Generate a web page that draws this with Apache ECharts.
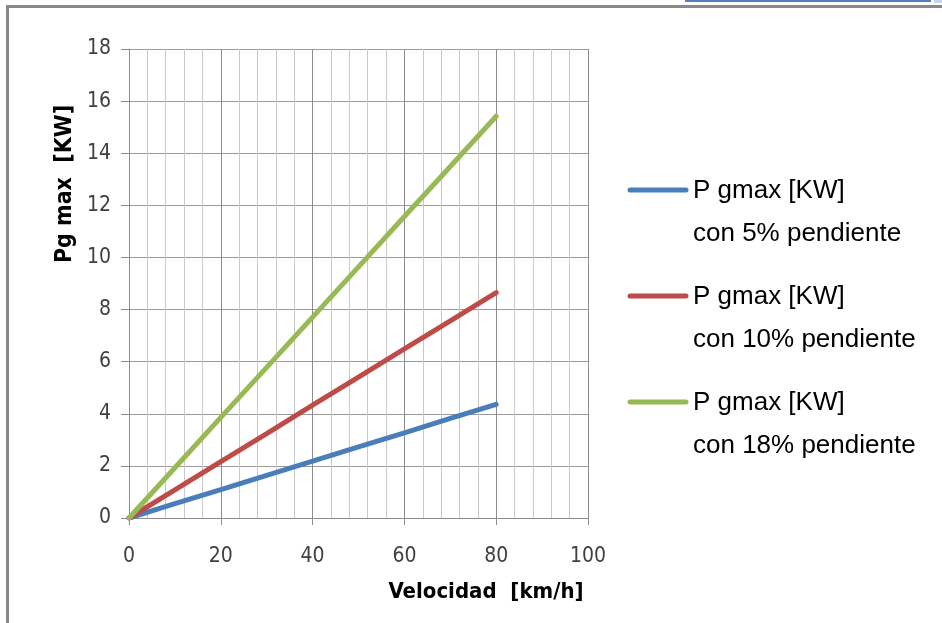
<!DOCTYPE html>
<html>
<head>
<meta charset="utf-8">
<script src="https://cdn.jsdelivr.net/npm/echarts@6/dist/echarts.min.js"></script>
<style>
html,body{margin:0;padding:0;background:#fff;}
#chart{width:942px;height:623px;}
</style>
</head>
<body>
<div id="chart"></div>
<script>
// Data
var velocidad = [0, 10, 20, 30, 40, 50, 60, 70, 80];
var p5  = [0, 0.55, 1.09, 1.64, 2.18, 2.73, 3.27, 3.82, 4.36];
var p10 = [0, 1.08, 2.16, 3.24, 4.33, 5.41, 6.49, 7.57, 8.65];
var p18 = [0, 1.93, 3.86, 5.78, 7.71, 9.64, 11.57, 13.49, 15.42];
var seriesNames = ['P gmax [KW]\ncon 5% pendiente', 'P gmax [KW]\ncon 10% pendiente', 'P gmax [KW]\ncon 18% pendiente'];
var xAxisTitle = 'Velocidad  [km/h]';
var yAxisTitle = 'Pg max  [KW]';

var colors = ['#4A7EBB', '#BE4B48', '#98B954'];
var narrow = '"Liberation Sans Narrow", "DejaVu Sans Condensed", "Liberation Sans", sans-serif';

function pairs(ys) { return velocidad.map(function (x, i) { return [x, ys[i]]; }); }

var chart = echarts.init(document.getElementById('chart'));
var legendTops = [190, 296, 402];
var graphic = [
  { type: 'rect', shape: { x: 6, y: 5, width: 936, height: 3 }, style: { fill: '#888888' } },
  { type: 'rect', shape: { x: 6, y: 5, width: 3, height: 618 }, style: { fill: '#888888' } },
  { type: 'rect', shape: { x: 685, y: 0, width: 246, height: 2 }, style: { fill: '#4F81BD' } },
  { type: 'rect', shape: { x: 934, y: 0, width: 8, height: 3 }, style: { fill: '#C9D6EA' } },
  { type: 'text', x: 486, y: 592, style: { text: xAxisTitle, font: 'bold 22px ' + narrow, fill: '#000', align: 'center', verticalAlign: 'middle' } },
  { type: 'text', x: 65, y: 184, rotation: Math.PI / 2, style: { text: yAxisTitle, font: 'bold 23px ' + narrow, fill: '#000', align: 'center', verticalAlign: 'middle' } }
];
seriesNames.forEach(function (name, i) {
  var parts = name.split('\n');
  graphic.push({ type: 'line', shape: { x1: 630, y1: legendTops[i], x2: 686, y2: legendTops[i] }, style: { stroke: colors[i], lineWidth: 5, lineCap: 'round' } });
  graphic.push({ type: 'text', x: 693, y: legendTops[i] + 1, style: { text: parts[0], font: '26px "Liberation Sans", sans-serif', fill: '#000', verticalAlign: 'middle' } });
  graphic.push({ type: 'text', x: 693, y: legendTops[i] + 44, style: { text: parts[1], font: '26px "Liberation Sans", sans-serif', fill: '#000', verticalAlign: 'middle' } });
});

chart.setOption({
  animation: false,
  backgroundColor: '#fff',
  grid: { left: 129, right: 354, top: 49, bottom: 105, containLabel: false },
  xAxis: {
    type: 'value', min: 0, max: 100, interval: 20,
    axisLine: { show: true, lineStyle: { color: '#8c8c8c', width: 1 } },
    axisTick: { show: true, inside: false, length: 7, lineStyle: { color: '#8c8c8c' } },
    axisLabel: { margin: 28, fontSize: 21, fontFamily: narrow, color: '#404040' },
    splitLine: { show: true, lineStyle: { color: '#8c8c8c', width: 1 } },
    minorTick: { show: false, splitNumber: 5 },
    minorSplitLine: { show: true, lineStyle: { color: '#c8c8c8', width: 1 } }
  },
  yAxis: {
    type: 'value', min: 0, max: 18, interval: 2,
    axisLine: { show: true, lineStyle: { color: '#8c8c8c', width: 1 } },
    axisTick: { show: true, inside: false, length: 8, lineStyle: { color: '#8c8c8c' } },
    axisLabel: { margin: 18, fontSize: 21, fontFamily: narrow, color: '#404040' },
    splitLine: { show: true, lineStyle: { color: '#9a9a9a', width: 1 } }
  },
  graphic: graphic,
  series: [p5, p10, p18].map(function (d, i) {
    return {
      name: seriesNames[i], type: 'line', data: pairs(d), showSymbol: false, symbol: 'none',
      lineStyle: { color: colors[i], width: 5, cap: 'round' }, itemStyle: { color: colors[i] }, z: 3 + i
    };
  })
});
</script>
</body>
</html>
